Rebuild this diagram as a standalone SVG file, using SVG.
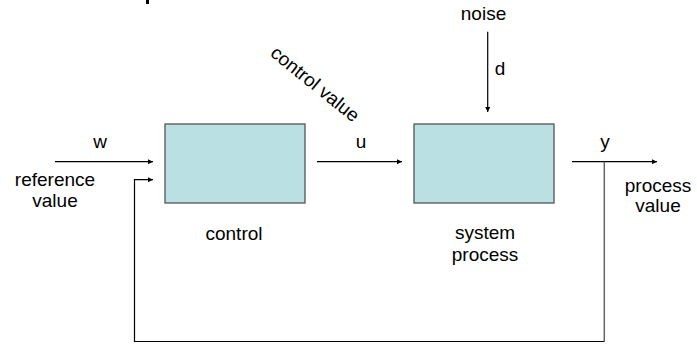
<svg xmlns="http://www.w3.org/2000/svg" width="697" height="345" viewBox="0 0 697 345">
<defs>
<marker id="ah" viewBox="0 0 10 10" refX="10" refY="5" markerWidth="6" markerHeight="5" markerUnits="userSpaceOnUse" orient="auto">
<path d="M0,0 L10,5 L0,10 Z" fill="#000"/>
</marker>
</defs>
<style>
text{font-family:"Liberation Sans",Arial,sans-serif;font-size:19px;fill:#000;text-anchor:middle}
.box{fill:#bbe0e3;stroke:#555;stroke-width:1.3}
.ln{fill:none;stroke:#000;stroke-width:1.2}
.fb{fill:none;stroke:#666;stroke-width:1.5}
</style>
<rect x="146" y="0" width="3" height="4" fill="#000"/>
<g id="connectors">
<line class="ln" x1="55" y1="161.7" x2="153" y2="161.7" marker-end="url(#ah)"/>
<line class="ln" x1="317" y1="161.7" x2="402" y2="161.7" marker-end="url(#ah)"/>
<line class="ln" x1="572" y1="161.7" x2="657" y2="161.7" marker-end="url(#ah)"/>
<line class="ln" x1="487.7" y1="31.7" x2="487.7" y2="112" marker-end="url(#ah)"/>
<path class="fb" d="M604.3,161.7 V341.5"/>
<path class="ln" d="M604.3,341.5 H134.5 V179.7 H153" marker-end="url(#ah)"/>
</g>
<g id="control">
<rect class="box" x="165" y="124" width="140" height="79"/>
<text x="234" y="240">control</text>
</g>
<g id="system-process">
<rect class="box" x="414" y="124" width="140" height="79"/>
<text x="485" y="239">system</text>
<text x="485" y="261">process</text>
</g>
<g id="labels">
<text x="100" y="148">w</text>
<text x="55" y="186">reference</text>
<text x="55" y="207">value</text>
<text x="361" y="148">u</text>
<text x="605" y="148">y</text>
<text x="658" y="192">process</text>
<text x="658" y="212">value</text>
<text x="483.5" y="20">noise</text>
<text x="500" y="75">d</text>
<text transform="translate(311,89) rotate(39)" x="0" y="0">control value</text>
</g>
</svg>
